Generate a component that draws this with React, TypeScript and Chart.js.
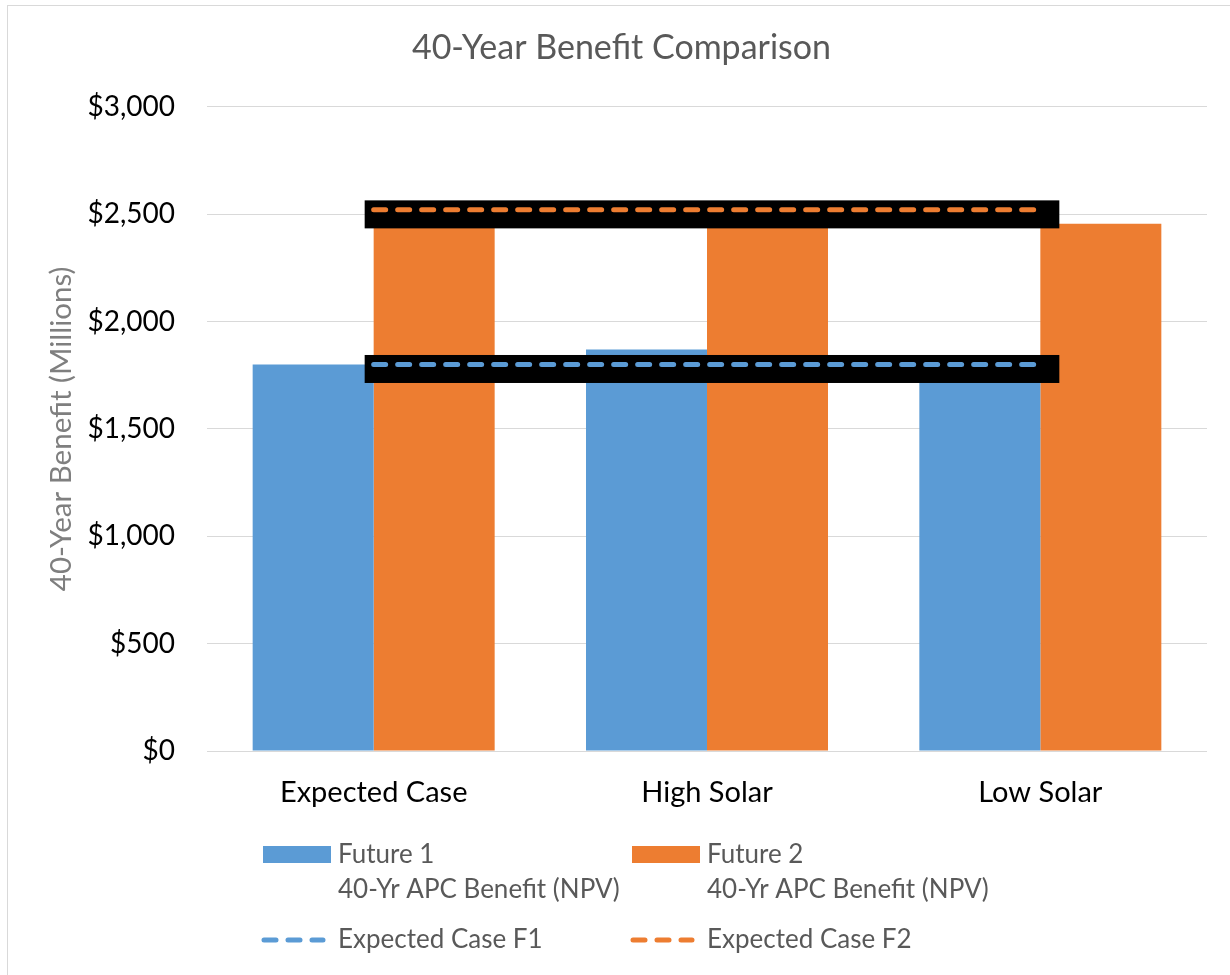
import React, { useEffect, useRef } from 'react';
import { Chart, registerables } from 'chart.js';

Chart.register(...registerables);

const categories = ['Expected Case', 'High Solar', 'Low Solar'];
const future1 = [1800, 1870, 1780];
const future2 = [2520, 2510, 2455];
const expectedF1 = [1800, 1800, 1800];
const expectedF2 = [2520, 2520, 2520];
const yTicks = [0, 500, 1000, 1500, 2000, 2500, 3000];

const chartTitle = '40-Year Benefit Comparison';
const yAxisTitle = '40-Year Benefit (Millions)';
const legendBar1 = ['Future 1', '40-Yr APC Benefit (NPV)'];
const legendBar2 = ['Future 2', '40-Yr APC Benefit (NPV)'];
const legendLine1 = 'Expected Case F1';
const legendLine2 = 'Expected Case F2';

const BLUE = '#5B9BD5';
const ORANGE = '#ED7D31';
const FONT = 'Lato, "Open Sans", sans-serif';
const DASH = [12, 12];
const LINE_W = 5;

const redactPlugin = {
  id: 'redact',
  beforeDatasetDraw(chart: any, args: any) {
    const meta = args.meta;
    if (meta.type !== 'line') return;
    const pts = meta.data;
    if (!pts || pts.length < 2) return;
    const first = pts[0];
    const last = pts[pts.length - 1];
    const ctx = chart.ctx;
    ctx.save();
    ctx.fillStyle = '#000000';
    ctx.fillRect(first.x - 9, first.y - 9.5, last.x - first.x + 28, 28);
    ctx.restore();
  },
};

const legendPlugin = {
  id: 'customLegend',
  afterDraw(chart: any) {
    const ctx = chart.ctx;
    const a = chart.chartArea;
    const fontPx = 26;
    ctx.save();
    ctx.font = `${fontPx}px ${FONT}`;
    ctx.fillStyle = '#595959';
    ctx.textBaseline = 'middle';
    ctx.textAlign = 'left';

    const col1 = a.left + 56;
    const col2 = a.left + 425;
    const swTop = a.bottom + 95;
    const line1Y = a.bottom + 104;
    const line2Y = a.bottom + 139;
    const row2Y = a.bottom + 189;

    const drawBarItem = (x: number, color: string, lines: string[]) => {
      ctx.fillStyle = color;
      ctx.fillRect(x, swTop, 68, 17);
      ctx.fillStyle = '#595959';
      ctx.fillText(lines[0], x + 75, line1Y);
      ctx.fillText(lines[1], x + 75, line2Y);
    };
    const drawLineItem = (x: number, color: string, text: string) => {
      ctx.save();
      ctx.strokeStyle = color;
      ctx.lineWidth = LINE_W;
      ctx.lineCap = 'round';
      ctx.setLineDash(DASH);
      ctx.beginPath();
      ctx.moveTo(x + 3, row2Y);
      ctx.lineTo(x + 62, row2Y);
      ctx.stroke();
      ctx.restore();
      ctx.fillStyle = '#595959';
      ctx.fillText(text, x + 77, row2Y);
    };
    drawBarItem(col1, BLUE, legendBar1);
    drawBarItem(col2, ORANGE, legendBar2);
    drawLineItem(col1 - 2, BLUE, legendLine1);
    drawLineItem(col2 - 2, ORANGE, legendLine2);
    ctx.restore();
  },
};

export default function App() {
  const canvasRef = useRef<HTMLCanvasElement | null>(null);

  useEffect(() => {
    const canvas = canvasRef.current;
    if (!canvas) return;
    const chart = new Chart(canvas, {
      type: 'bar',
      data: {
        labels: categories,
        datasets: [
          {
            type: 'bar',
            label: legendBar1.join(' '),
            data: future1,
            backgroundColor: BLUE,
            order: 2,
            categoryPercentage: 0.726,
            barPercentage: 1,
          },
          {
            type: 'bar',
            label: legendBar2.join(' '),
            data: future2,
            backgroundColor: ORANGE,
            order: 2,
            categoryPercentage: 0.726,
            barPercentage: 1,
          },
          {
            type: 'line',
            label: legendLine1,
            data: expectedF1,
            borderColor: BLUE,
            borderWidth: LINE_W,
            borderDash: DASH,
            borderCapStyle: 'round',
            pointRadius: 0,
            fill: false,
            order: 1,
          },
          {
            type: 'line',
            label: legendLine2,
            data: expectedF2,
            borderColor: ORANGE,
            borderWidth: LINE_W,
            borderDash: DASH,
            borderCapStyle: 'round',
            pointRadius: 0,
            fill: false,
            order: 1,
          },
        ] as any,
      },
      options: {
        responsive: false,
        animation: false,
        devicePixelRatio: 1,
        layout: { padding: { left: 36, right: 23, top: 0, bottom: 0 } },
        plugins: {
          legend: { display: false },
          tooltip: { enabled: false },
          title: {
            display: true,
            text: chartTitle,
            color: '#595959',
            font: { family: FONT, size: 34, weight: 'normal' },
            padding: { top: 28, bottom: 38 },
          },
        },
        scales: {
          x: {
            grid: { display: false },
            border: { display: false },
            ticks: {
              color: '#000000',
              font: { family: FONT, size: 29 },
              padding: 16,
            },
            afterFit(scale: any) {
              scale.height = 224;
            },
          },
          y: {
            min: 0,
            max: 3000,
            grid: { color: '#d9d9d9', lineWidth: 1, drawTicks: false },
            border: { display: false },
            ticks: {
              color: '#000000',
              font: { family: FONT, size: 28 },
              padding: 32,
              callback: (v: any) => '$' + Number(v).toLocaleString('en-US'),
            },
            afterBuildTicks(scale: any) {
              scale.ticks = yTicks.map((v) => ({ value: v }));
            },
            afterFit(scale: any) {
              scale.width = 171;
            },
            title: {
              display: true,
              text: yAxisTitle,
              color: '#7f7f7f',
              font: { family: FONT, size: 29.5 },
              padding: { top: 8, bottom: 0 },
            },
          },
        },
      },
      plugins: [redactPlugin, legendPlugin],
    });
    return () => chart.destroy();
  }, []);

  return (
    <div
      style={{
        position: 'absolute',
        left: 0,
        top: 0,
        width: 1230,
        height: 975,
        background: '#ffffff',
        overflow: 'hidden',
      }}
    >
      <canvas
        ref={canvasRef}
        width={1230}
        height={975}
        style={{ position: 'absolute', left: 0, top: 0, width: 1230, height: 975 }}
      />
      <div
        style={{
          position: 'absolute',
          left: 7,
          top: 5,
          width: 1300,
          height: 1100,
          borderLeft: '1px solid #d9d9d9',
          borderTop: '1px solid #d9d9d9',
          pointerEvents: 'none',
        }}
      />
    </div>
  );
}
